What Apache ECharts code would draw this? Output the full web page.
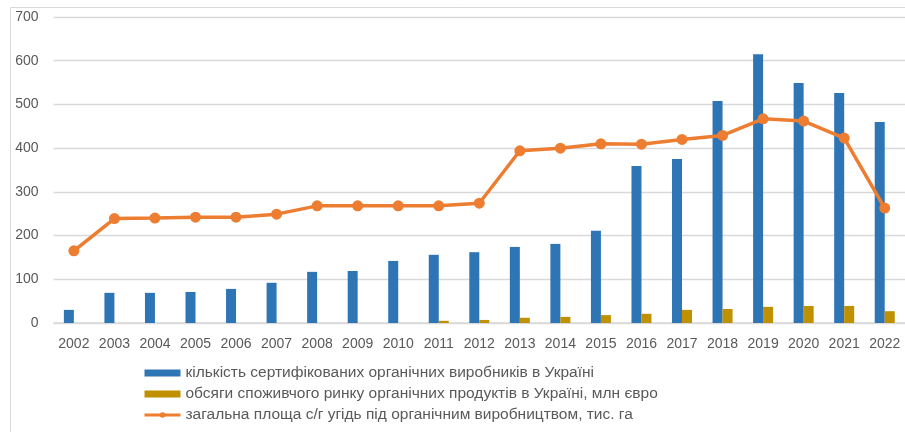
<!DOCTYPE html>
<html><head><meta charset="utf-8">
<script src="https://cdn.jsdelivr.net/npm/echarts@6/dist/echarts.min.js"></script>
<style>html,body{margin:0;padding:0;background:#fff}#c{width:905px;height:432px}</style>
</head><body><div id="c"></div>
<script>
const years = ['2002','2003','2004','2005','2006','2007','2008','2009','2010','2011','2012','2013','2014','2015','2016','2017','2018','2019','2020','2021','2022'];
const producers = [30,69,69,71,78,92,117,119,142,156,162,174,181,211,359,375,508,615,549,526,460];
const market = [0,0,0,0,0,0,0,0,0,5,7,12,14,18,21,30,32,37,39,39,27];
const area = [165,239,240,242,242,249,268,268,268,268,274,394,400,410,409,420,429,467,462,423,263];
const yTicks = [0,100,200,300,400,500,600,700];

const names = ['кількість сертифікованих органічних виробників в Україні',
  'обсяги споживчого ринку органічних продуктів в Україні, млн євро',
  'загальна площа с/г угідь під органічним виробництвом, тис. га'];
const font = 'Liberation Sans, Arial, sans-serif';
const chart = echarts.init(document.getElementById('c'), null, {renderer:'canvas'});
chart.setOption({
  animation:false,
  backgroundColor:'#fff',
  graphic:[{type:'rect', shape:{x:10.5,y:7.5,width:1000,height:1000}, style:{fill:'none', stroke:'#d9d9d9', lineWidth:1}, silent:true}],
  grid:{left:53.6, right:-4.4, top:17, bottom:109, containLabel:false},
  legend:{
    orient:'vertical', left:138, top:360, itemWidth:36, itemHeight:7, itemGap:5,
    textStyle:{fontFamily:font, fontSize:15.5, color:'#595959', lineHeight:16},
    data:[{name:names[0], icon:'rect'},{name:names[1], icon:'rect'},
      {name:names[2], lineStyle:{width:3}}]
  },
  xAxis:{type:'category', data:years,
    axisLine:{lineStyle:{color:'#d9d9d9', width:1.5}}, axisTick:{show:false},
    axisLabel:{fontFamily:font, fontSize:14, color:'#595959', margin:14, interval:0}},
  yAxis:{type:'value', min:0, max:700, interval:100,
    axisLine:{show:false}, axisTick:{show:false},
    splitLine:{lineStyle:{color:'#d9d9d9', width:1.3}},
    axisLabel:{fontFamily:font, fontSize:14, color:'#595959', margin:15,
      formatter:(v)=> yTicks.includes(v) ? String(v) : ''}},
  series:[
    {name:names[0], type:'bar', data:producers, barWidth:10, barGap:'0%', itemStyle:{color:'#2E75B6'}},
    {name:names[1], type:'bar', data:market, barWidth:10, barGap:'0%', itemStyle:{color:'#BF9000'}},
    {name:names[2], type:'line', data:area, symbol:'circle', symbolSize:11,
      lineStyle:{color:'#ED7D31', width:3.5}, itemStyle:{color:'#ED7D31'}}
  ]
});
</script></body></html>
